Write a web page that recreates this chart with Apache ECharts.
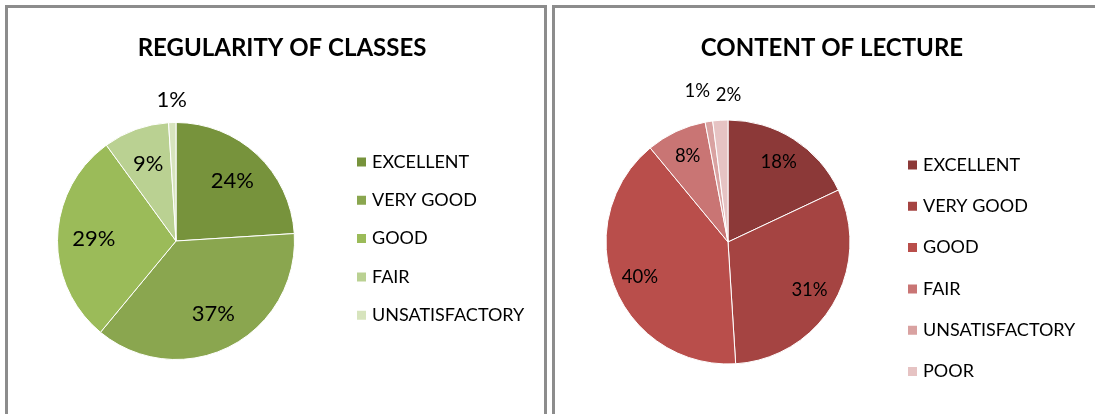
<!DOCTYPE html>
<html>
<head>
<meta charset="utf-8">
<script src="https://cdn.jsdelivr.net/npm/echarts@6/dist/echarts.min.js"></script>
<style>
  html, body { margin: 0; padding: 0; background: #fff; }
  body { width: 1095px; height: 414px; position: relative; overflow: hidden; }
  .panel { position: absolute; border: 3px solid #8c8c8c; box-sizing: border-box; }
  .chart { position: absolute; left: 0; top: 0; width: 1095px; height: 414px; }
</style>
</head>
<body>
<div class="panel" style="left:5px;top:5px;width:542px;height:430px;"></div>
<div class="panel" style="left:552px;top:5px;width:560px;height:430px;"></div>
<div id="regularity" class="chart"></div>
<div id="lecture" class="chart"></div>
<script>
// regularity of classes
const regularityNames = ['EXCELLENT', 'VERY GOOD', 'GOOD', 'FAIR', 'UNSATISFACTORY'];
const regularityValues = [24, 37, 29, 9, 1];
const regularityColors = ['#77933c', '#8aa64f', '#9bbb59', '#bad192', '#d7e4bd'];

// content of lecture
const lectureNames = ['EXCELLENT', 'VERY GOOD', 'GOOD', 'FAIR', 'UNSATISFACTORY', 'POOR'];
const lectureValues = [18, 31, 40, 8, 1, 2];
const lectureColors = ['#8c3938', '#a54442', '#b94e4b', '#c97574', '#d9a2a1', '#e6c3c3'];

const FONT = 'Lato, "Open Sans", sans-serif';

function build(el, cfg) {
  const chart = echarts.init(document.getElementById(el), null, { renderer: 'canvas' });
  const data = cfg.names.map((n, i) => ({ name: n, value: cfg.values[i] }));
  chart.setOption({
    animation: false,
    title: {
      text: cfg.title,
      left: cfg.titleX,
      top: 31,
      textAlign: 'center',
      textStyle: { fontFamily: FONT, fontWeight: 'bold', fontSize: 24, color: '#000' }
    },
    legend: {
      orient: 'vertical',
      left: cfg.legendX,
      top: cfg.legendY,
      padding: 0,
      icon: 'rect',
      itemWidth: 11,
      itemHeight: 11,
      itemGap: cfg.legendGap,
      textStyle: { fontFamily: FONT, fontSize: 18, color: '#000', lineHeight: 20 },
      data: cfg.names
    },
    color: cfg.colors,
    series: [{
      type: 'pie',
      center: cfg.center,
      radius: cfg.radius,
      startAngle: 90,
      clockwise: true,
      data: data,
      itemStyle: { borderColor: '#fff', borderWidth: 1 },
      label: {
        show: true,
        position: 'inside',
        formatter: '{c}%',
        fontFamily: FONT,
        fontSize: cfg.labelSize,
        color: '#000'
      },
      labelLine: { show: false },
      // inside labels sit at r/2, push them out to where excel puts them
      labelLayout: function (p) {
        const r = p.labelRect;
        const lx = r.x + r.width / 2, ly = r.y + r.height / 2;
        const val = cfg.values[p.dataIndex];
        const k = (val < 5 ? cfg.outer : cfg.inner) / 0.5 - 1;
        const n = (cfg.nudge && cfg.nudge[p.dataIndex]) || [0, 0];
        return {
          dx: (lx - cfg.center[0]) * k + n[0],
          dy: (ly - cfg.center[1]) * k + n[1]
        };
      }
    }]
  });
}

build('regularity', {
  title: 'REGULARITY OF CLASSES',
  titleX: 277,
  names: regularityNames,
  values: regularityValues,
  colors: regularityColors,
  center: [176, 241],
  radius: 118.5,
  labelSize: 22,
  inner: 0.66,
  outer: 1.13,
  legendX: 355,
  legendY: 152,
  legendGap: 18.3
});

build('lecture', {
  title: 'CONTENT OF LECTURE',
  titleX: 827,
  names: lectureNames,
  values: lectureValues,
  colors: lectureColors,
  center: [728, 242],
  radius: 122,
  labelSize: 18.5,
  inner: 0.74,
  outer: 1.18,
  nudge: { 4: [-7, -2], 5: [10, 4] },
  legendX: 906,
  legendY: 155,
  legendGap: 21.3
});
</script>
</body>
</html>
